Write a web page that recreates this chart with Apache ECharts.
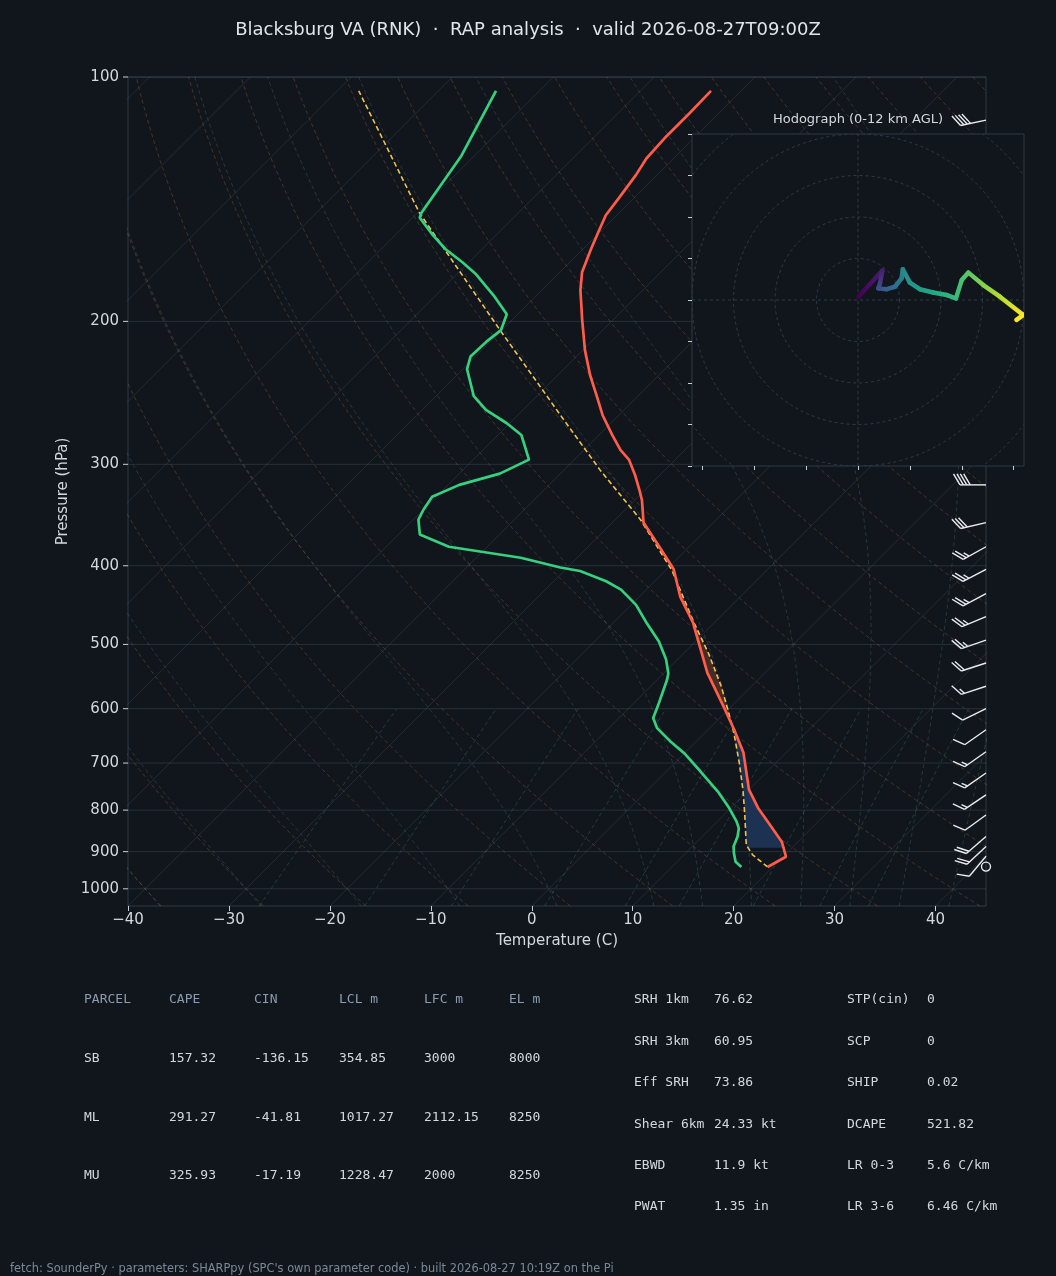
<!DOCTYPE html>
<html lang="en">
<head>
<meta charset="UTF-8" />
<title>Skew-T RNK</title>
<script src="https://cdn.jsdelivr.net/npm/echarts@6/dist/echarts.min.js"></script>
<style>
  html, body { margin: 0; padding: 0; background: #11161d; }
  #chart { width: 1056px; height: 1276px; }
</style>
</head>
<body>
<div id="chart"></div>
<script>
// ---- sounding (hPa / degC) ----
const tempP = [940, 913, 875, 829, 795, 755, 680, 637, 597, 542, 470, 437, 404, 382, 354, 332, 323, 309, 296, 288, 276, 261, 246, 233, 217, 199, 183, 174, 163, 155, 148, 141, 132, 126, 119, 111, 104]
const tempT = [19.5, 20.3, 18.4, 15.2, 12.7, 10.0, 5.8, 2.6, -0.7, -5.7, -12.1, -15.9, -19.3, -22.5, -26.9, -29.3, -30.5, -32.5, -34.6, -36.4, -38.7, -41.6, -44.3, -46.8, -49.8, -53.1, -56.2, -57.8, -59.2, -60.2, -61.1, -61.5, -62.1, -62.7, -62.9, -62.9, -63.0]

const dewP = [940, 926, 904, 887, 862, 842, 826, 796, 759, 717, 681, 659, 634, 616, 596, 553, 543, 522, 496, 471, 447, 428, 418, 406, 402, 391, 379, 366, 351, 341, 329, 318, 308, 296, 276, 267, 257, 247, 229, 221, 212, 205, 196, 186, 175, 169, 163, 156, 149, 147, 125, 104]
const dewT = [16.9, 15.8, 14.8, 14.1, 13.5, 12.8, 11.9, 9.9, 7.1, 3.4, 0.0, -2.5, -5.2, -6.6, -7.3, -9.0, -9.5, -11.1, -13.6, -16.6, -19.5, -22.5, -24.8, -28.4, -30.7, -35.6, -43.8, -47.9, -49.5, -50.0, -50.4, -48.9, -46.0, -44.5, -47.7, -50.3, -53.7, -56.3, -59.6, -60.5, -60.4, -60.1, -61.1, -64.2, -68.1, -70.7, -73.6, -76.5, -79.3, -79.6, -81.3, -84.3]

const parcelP = [940, 908, 883, 807, 755, 700, 643, 602, 563, 513, 471, 405, 351, 305, 260, 205, 147, 104]
const parcelT = [19.5, 16.8, 15.2, 11.9, 9.4, 6.4, 2.9, 0.0, -3.0, -7.5, -11.9, -19.4, -27.5, -36.4, -46.0, -60.2, -79.8, -97.9]

// shaded layers (bottom / top pressure)
const cinLayer = [890, 637]
const capeLayer = [637, 405]

// wind barbs: pressure, speed (kt), direction (deg)
const barbP = [113, 318, 354, 379, 404, 433, 462, 494, 527, 563, 600, 637, 678, 720, 766, 811, 862, 887, 912, 939]
const barbSpd = [40, 40, 30, 25, 25, 25, 25, 25, 20, 15, 10, 10, 15, 15, 15, 10, 20, 20, 10, 0]
const barbDir = [258, 270, 257, 241, 242, 242, 247, 251, 252, 252, 244, 235, 235, 235, 236, 234, 229, 227, 220, 0]

// hodograph (kt) and height (km AGL)
const hodoU = [0.1, 5.9, 5.3, 4.9, 6.9, 8.9, 10.5, 10.8, 12.5, 14.9, 18.1, 21.4, 23.6, 25.0, 26.6, 30.2, 34.2, 39.8, 38.2]
const hodoV = [0.8, 7.1, 4.0, 2.8, 2.6, 3.2, 5.2, 7.4, 4.2, 2.6, 1.8, 1.2, 0.4, 4.8, 6.6, 3.6, 0.8, -3.6, -4.8]
const hodoH = [0, 1.0, 2.2, 2.9, 3.6, 4.2, 5.0, 5.6, 6.2, 6.7, 7.2, 7.7, 8.0, 8.5, 8.9, 9.8, 10.6, 12, 12]

// ticks
const tempTicks = [-40, -30, -20, -10, 0, 10, 20, 30, 40]
const pressureTicks = [100, 200, 300, 400, 500, 600, 700, 800, 900, 1000]
const hodoXTicks = [-37.5, -25, -12.5, 0, 12.5, 25, 37.5]
const hodoRings = [10, 20, 30, 40, 50]

// stats tables
const parcelHeader = ['PARCEL', 'CAPE', 'CIN', 'LCL m', 'LFC m', 'EL m']
const parcelRows = [
  ['SB', '157.32', '-136.15', '354.85', '3000', '8000'],
  ['ML', '291.27', '-41.81', '1017.27', '2112.15', '8250'],
  ['MU', '325.93', '-17.19', '1228.47', '2000', '8250']
]
const indexRows = [
  ['SRH 1km', '76.62', 'STP(cin)', '0'],
  ['SRH 3km', '60.95', 'SCP', '0'],
  ['Eff SRH', '73.86', 'SHIP', '0.02'],
  ['Shear 6km', '24.33 kt', 'DCAPE', '521.82'],
  ['EBWD', '11.9 kt', 'LR 0-3', '5.6 C/km'],
  ['PWAT', '1.35 in', 'LR 3-6', '6.46 C/km']
]

// ---- layout / colours ----
const C = {
  bg: '#11161d', frame: '#2f3a47', text: '#d3d8de', muted: '#8d9bb0',
  temp: '#ff5c4a', dew: '#36d07e', parcel: '#f2c14e',
  cin: '#1d3252', cape: '#472c26', barb: '#e8ecf0'
}
const FONT = 'DejaVu Sans'
const MONO = 'DejaVu Sans Mono'
const T_MIN = -40, T_MAX = 45, P_BOT = 1050, P_TOP = 100
const G = { left: 128, top: 77, width: 858, height: 829 }
// 45 degree skew: degC shift per decade of pressure
const SKEW = (G.height / Math.log10(P_BOT / P_TOP)) / (G.width / (T_MAX - T_MIN))
const skewX = (t, p) => t + SKEW * Math.log10(P_BOT / p)

function interpLog(ps, ts, p) {
  for (let i = 0; i < ps.length - 1; i++) {
    if (p <= ps[i] && p >= ps[i + 1]) {
      const f = Math.log(ps[i] / p) / Math.log(ps[i] / ps[i + 1])
      return ts[i] + f * (ts[i + 1] - ts[i])
    }
  }
  return ts[ts.length - 1]
}

// polygon between parcel and environment over a layer
function layerPoly(pHi, pLo) {
  const pts = [[skewX(interpLog(parcelP, parcelT, pHi), pHi), pHi]]
  parcelP.forEach((p, i) => { if (p < pHi && p > pLo) pts.push([skewX(parcelT[i], p), p]) })
  pts.push([skewX(interpLog(parcelP, parcelT, pLo), pLo), pLo])
  pts.push([skewX(interpLog(tempP, tempT, pLo), pLo), pLo])
  for (let i = tempP.length - 1; i >= 0; i--) {
    if (tempP[i] < pHi && tempP[i] > pLo) pts.push([skewX(tempT[i], tempP[i]), tempP[i]])
  }
  pts.push([skewX(interpLog(tempP, tempT, pHi), pHi), pHi])
  return pts
}

// ---- thermodynamic background lines ----
function satVap(tk) { const c = tk - 273.15; return 6.112 * Math.exp(17.67 * c / (c + 243.5)) }
function moistGrad(p, tk) {
  const es = satVap(tk), rs = 0.622 * es / (p - es)
  return (287.04 * tk + 2.501e6 * rs) / (1005.7 + 2.501e6 * 2.501e6 * rs * 0.622 / (287.04 * tk * tk)) / p
}
function rk4(p, tk, h) {
  const k1 = moistGrad(p, tk), k2 = moistGrad(p + h / 2, tk + h * k1 / 2)
  const k3 = moistGrad(p + h / 2, tk + h * k2 / 2), k4 = moistGrad(p + h, tk + h * k3)
  return tk + h * (k1 + 2 * k2 + 2 * k3 + k4) / 6
}
function moistLine(t0) {
  const down = [], up = []
  let tk = t0 + 273.15, p = 1000
  while (p < P_BOT) { tk = rk4(p, tk, 5); p += 5; down.push([p, tk]) }
  tk = t0 + 273.15; p = 1000; up.push([p, tk])
  while (p > P_TOP) { tk = rk4(p, tk, -5); p -= 5; up.push([p, tk]) }
  return down.reverse().concat(up).map(([pp, k]) => [skewX(k - 273.15, pp), pp])
}
function dryLine(theta) {
  const out = []
  for (let i = 0; i <= 50; i++) {
    const p = P_BOT * Math.pow(P_TOP / P_BOT, i / 50)
    out.push([skewX((theta + 273.15) * Math.pow(p / 1000, 0.2857) - 273.15, p), p])
  }
  return out
}
function mixLine(w) {
  const out = []
  for (let i = 0; i <= 12; i++) {
    const p = P_BOT * Math.pow(600 / P_BOT, i / 12)
    const e = w * p / (0.622 + w), l = Math.log(e / 6.112)
    out.push([skewX(243.5 * l / (17.67 - l), p), p])
  }
  return out
}

function bgLine(data, color, type) {
  return {
    type: 'line', xAxisIndex: 0, yAxisIndex: 0, data, symbol: 'none', silent: true, z: 1,
    lineStyle: { color, width: 1, type }
  }
}

const series = []
pressureTicks.forEach(p => series.push(bgLine([[T_MIN, p], [T_MAX, p]], 'rgba(150,170,195,0.17)', 'solid')))
for (let t = -120; t <= 40; t += 10) {
  series.push(bgLine([[skewX(t, P_BOT), P_BOT], [skewX(t, P_TOP), P_TOP]], 'rgba(150,170,195,0.14)', 'solid'))
}
for (let th = -40; th <= 200; th += 10) series.push(bgLine(dryLine(th), 'rgba(185,125,70,0.30)', [4, 3]))
;[-50, -40, -30, -20, -10, 0, 10, 15, 20, 25, 30, 35, 40, 45].forEach(t =>
  series.push(bgLine(moistLine(t), 'rgba(110,160,165,0.24)', [4, 3])))
;[0.0004, 0.001, 0.002, 0.004, 0.007, 0.01, 0.016, 0.024, 0.032].forEach(w =>
  series.push(bgLine(mixLine(w), 'rgba(80,170,160,0.26)', [4, 3])))

// CIN / CAPE shading
;[[cinLayer, C.cin], [capeLayer, C.cape]].forEach(([layer, color]) => {
  const poly = layerPoly(layer[0], layer[1])
  series.push({
    type: 'custom', xAxisIndex: 0, yAxisIndex: 0, data: [[0, 500]], silent: true, z: 3,
    renderItem: (params, api) => ({
      type: 'polygon', shape: { points: poly.map(q => api.coord(q)) }, style: { fill: color }
    })
  })
})

// profiles
function profile(ps, ts, color, width, type) {
  return {
    type: 'line', xAxisIndex: 0, yAxisIndex: 0, symbol: 'none', silent: true, z: 6,
    data: ps.map((p, i) => [skewX(ts[i], p), p]),
    lineStyle: { color, width, type }
  }
}
series.push(profile(parcelP, parcelT, C.parcel, 1.6, [5, 3]))
series.push(profile(dewP, dewT, C.dew, 2.7, 'solid'))
series.push(profile(tempP, tempT, C.temp, 2.7, 'solid'))

// pressure tick labels (log axis positions)
series.push({
  type: 'custom', xAxisIndex: 0, yAxisIndex: 0, silent: true, z: 5,
  data: pressureTicks.map(p => [T_MIN, p]),
  renderItem: (params, api) => {
    const pt = api.coord([T_MIN, api.value(1)])
    return {
      type: 'group', children: [
        { type: 'line', shape: { x1: pt[0] - 5, y1: pt[1], x2: pt[0], y2: pt[1] }, style: { stroke: '#c8ced6', lineWidth: 1 } },
        { type: 'text', style: { x: pt[0] - 9, y: pt[1], text: String(api.value(1)), fill: C.text,
          font: '15px "' + FONT + '"', textAlign: 'right', align: 'right', textVerticalAlign: 'middle', verticalAlign: 'middle' } }
      ]
    }
  }
})

// wind barbs at the right edge
series.push({
  type: 'custom', xAxisIndex: 0, yAxisIndex: 0, silent: true, z: 7,
  data: barbP.map((p, i) => [T_MAX, p, barbSpd[i], barbDir[i]]),
  renderItem: (params, api) => {
    const s = api.coord([T_MAX, api.value(1)])
    const spd = api.value(2), dir = api.value(3) * Math.PI / 180
    const style = { stroke: C.barb, lineWidth: 1.4, fill: null }
    if (spd < 2.5) return { type: 'circle', shape: { cx: s[0], cy: s[1], r: 4.5 }, style }
    const L = 26, H = 11, W = 6.5, SP = 3.4
    const d = [Math.sin(dir), -Math.cos(dir)], n = [-d[1], d[0]]
    const tip = [s[0] + L * d[0], s[1] + L * d[1]]
    const kids = [{ type: 'line', shape: { x1: s[0], y1: s[1], x2: tip[0], y2: tip[1] }, style }]
    let rem = Math.round(spd / 5) * 5
    let full = Math.floor(rem / 10), half = rem % 10 >= 5, off = 0
    for (let k = 0; k < full; k++) {
      const b = [tip[0] - d[0] * off, tip[1] - d[1] * off]
      kids.push({ type: 'line', shape: { x1: b[0], y1: b[1], x2: b[0] + n[0] * H + d[0] * W, y2: b[1] + n[1] * H + d[1] * W }, style })
      off += SP
    }
    if (half) {
      if (off === 0) off = 1.5 * SP
      const b = [tip[0] - d[0] * off, tip[1] - d[1] * off]
      kids.push({ type: 'line', shape: { x1: b[0], y1: b[1], x2: b[0] + n[0] * H / 2 + d[0] * W / 2, y2: b[1] + n[1] * H / 2 + d[1] * W / 2 }, style })
    }
    return { type: 'group', children: kids }
  }
})

// ---- hodograph ----
const viridis = ['#440154', '#482475', '#414487', '#355f8d', '#2a788e', '#21918c', '#22a884', '#44bf70', '#7ad151', '#bddf26', '#fde725']
function viridisAt(t) {
  t = Math.max(0, Math.min(1, t))
  const f = t * 10, i = Math.min(9, Math.floor(f)), r = f - i
  const a = viridis[i], b = viridis[i + 1]
  const ch = (h, k) => parseInt(h.slice(1 + 2 * k, 3 + 2 * k), 16)
  return 'rgb(' + [0, 1, 2].map(k => Math.round(ch(a, k) + r * (ch(b, k) - ch(a, k)))).join(',') + ')'
}

series.push({
  type: 'custom', xAxisIndex: 1, yAxisIndex: 1, silent: true, z: 22, clip: true,
  data: hodoRings.map(r => [0, 0, r]),
  renderItem: (params, api) => {
    const c = api.coord([0, 0]), r = api.size([api.value(2), 0])[0]
    return { type: 'circle', shape: { cx: c[0], cy: c[1], r }, style: { stroke: '#2f3a47', fill: null, lineWidth: 1, lineDash: [3, 3] } }
  }
})
series.push({ type: 'line', xAxisIndex: 1, yAxisIndex: 1, symbol: 'none', silent: true, z: 22,
  data: [[-40, 0], [40, 0]], lineStyle: { color: '#2f3a47', width: 1, type: [3, 3] } })
series.push({ type: 'line', xAxisIndex: 1, yAxisIndex: 1, symbol: 'none', silent: true, z: 22,
  data: [[0, -40], [0, 40]], lineStyle: { color: '#2f3a47', width: 1, type: [3, 3] } })

const hodoSeg = []
for (let i = 0; i < hodoU.length - 1; i++) {
  hodoSeg.push([hodoU[i], hodoV[i], hodoU[i + 1], hodoV[i + 1], hodoH[i], hodoH[i + 1]])
}
series.push({
  type: 'custom', xAxisIndex: 1, yAxisIndex: 1, silent: true, z: 24, clip: true,
  data: hodoSeg,
  renderItem: (params, api) => {
    const a = api.coord([api.value(0), api.value(1)]), b = api.coord([api.value(2), api.value(3)])
    const c0 = viridisAt(api.value(4) / 12), c1 = viridisAt(api.value(5) / 12)
    const stroke = (a[0] === b[0] && a[1] === b[1]) ? c0 :
      new echarts.graphic.LinearGradient(a[0], a[1], b[0], b[1], [{ offset: 0, color: c0 }, { offset: 1, color: c1 }], true)
    return { type: 'line', shape: { x1: a[0], y1: a[1], x2: b[0], y2: b[1] }, style: { stroke, lineWidth: 4.5, lineCap: 'round' } }
  }
})

// ---- texts ----
function txt(x, y, text, fill, font, align) {
  return { type: 'text', x, y, z: 30, silent: true,
    style: { text, fill, font, textAlign: align || 'left', align: align || 'left', textVerticalAlign: 'middle', verticalAlign: 'middle' } }
}
const graphics = []
graphics.push(txt(858, 120, 'Hodograph (0-12 km AGL)', C.text, '13px "' + FONT + '"', 'center'))
parcelHeader.forEach((h, j) => graphics.push(txt(84 + 85 * j, 1000, h, C.muted, '13px "' + MONO + '"')))
parcelRows.forEach((row, i) => row.forEach((v, j) =>
  graphics.push(txt(84 + 85 * j, 1058.7 + 58.7 * i, v, C.text, '13px "' + MONO + '"'))))
indexRows.forEach((row, i) => {
  const y = 1000 + 41.4 * i
  ;[634, 714, 847, 927].forEach((x, j) => graphics.push(txt(x, y, row[j], C.text, '13px "' + MONO + '"')))
})
graphics.push(txt(10, 1269, "fetch: SounderPy \u00b7 parameters: SHARPpy (SPC's own parameter code) \u00b7 built 2026-08-27 10:19Z on the Pi",
  '#7b8897', '11.4px "' + FONT + '"'))

const chart = echarts.init(document.getElementById('chart'))
chart.setOption({
  backgroundColor: C.bg,
  animation: false,
  title: {
    text: 'Blacksburg VA (RNK)  \u00b7  RAP analysis  \u00b7  valid 2026-08-27T09:00Z',
    left: 'center', top: 16,
    textStyle: { color: '#dfe5ec', fontSize: 18, fontWeight: 'normal', fontFamily: FONT }
  },
  grid: [
    { left: G.left, top: G.top, width: G.width, height: G.height, show: true, backgroundColor: 'transparent', borderColor: C.frame, borderWidth: 1 },
    { left: 692, top: 134, width: 332, height: 332, show: true, backgroundColor: C.bg, borderColor: C.frame, borderWidth: 1, z: 20 }
  ],
  xAxis: [
    {
      gridIndex: 0, type: 'value', min: T_MIN, max: T_MAX,
      name: 'Temperature (C)', nameLocation: 'middle', nameGap: 28,
      nameTextStyle: { color: C.text, fontSize: 15, fontFamily: FONT },
      axisLine: { show: false, onZero: false }, splitLine: { show: false },
      axisTick: { show: true, length: 5, lineStyle: { color: '#c8ced6' }, customValues: tempTicks },
      axisLabel: { customValues: tempTicks, color: C.text, fontSize: 15, fontFamily: FONT, margin: 7,
        formatter: v => String(v).replace('-', '\u2212') }
    },
    {
      gridIndex: 1, type: 'value', min: -40, max: 40, z: 21, position: 'bottom',
      axisLabel: { show: false }, axisLine: { show: false, onZero: false }, splitLine: { show: false },
      axisTick: { show: true, length: 4, lineStyle: { color: '#c8ced6' }, customValues: hodoXTicks }
    }
  ],
  yAxis: [
    {
      gridIndex: 0, type: 'log', logBase: 10, min: P_TOP, max: P_BOT, inverse: true,
      name: 'Pressure (hPa)', nameLocation: 'middle', nameGap: 57, nameRotate: 90,
      nameTextStyle: { color: C.text, fontSize: 15, fontFamily: FONT },
      axisLabel: { show: false }, axisTick: { show: false }, axisLine: { show: false, onZero: false }, splitLine: { show: false }
    },
    {
      gridIndex: 1, type: 'value', min: -40, max: 40, interval: 10, z: 21, position: 'left',
      axisLabel: { show: false }, axisLine: { show: false, onZero: false }, splitLine: { show: false },
      axisTick: { show: true, length: 4, lineStyle: { color: '#c8ced6' } }
    }
  ],
  graphic: graphics,
  series
})
</script>
</body>
</html>
